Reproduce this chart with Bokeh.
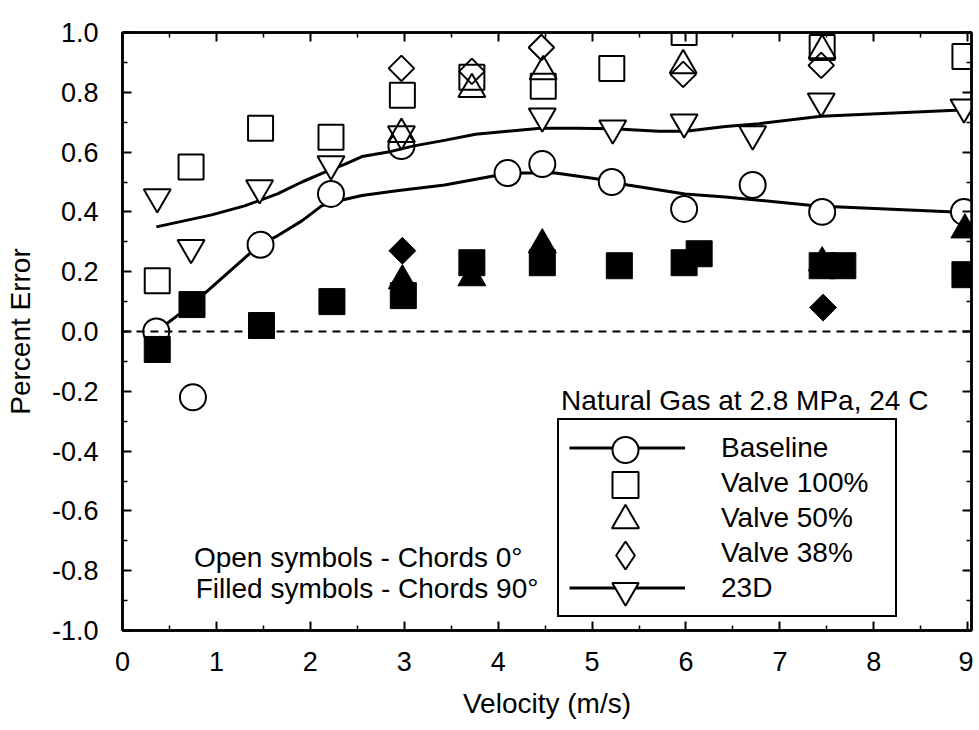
import numpy as np
from bokeh.plotting import figure
from bokeh.models import (Range1d, FixedTicker, PrintfTickFormatter, LinearAxis, Span,
                          Legend, LegendItem, Label, CustomJSTickFormatter)
from bokeh.embed import file_html
from bokeh.resources import INLINE

FONT = "Liberation Sans"

# ---------------- data ----------------
# Open symbols - chords 0 deg
baseline_x = [0.36, 0.75, 1.47, 2.22, 2.97, 4.10, 4.47, 5.21, 5.98, 6.71, 7.45, 8.96]
baseline_y = [0.00, -0.22, 0.29, 0.46, 0.62, 0.53, 0.56, 0.50, 0.41, 0.49, 0.40, 0.40]
baseline_fit_x = [0.36, 0.74, 1.46, 1.65, 1.91, 2.12, 2.34, 2.55, 2.90, 3.43, 3.95, 4.26,
                  4.61, 5.06, 5.38, 5.99, 6.42, 7.40, 8.86, 9.07]
baseline_fit_y = [0.00, 0.09, 0.29, 0.32, 0.37, 0.42, 0.44, 0.455, 0.47, 0.49, 0.52, 0.53,
                  0.53, 0.51, 0.49, 0.46, 0.45, 0.42, 0.40, 0.40]

d23_x = [0.37, 0.73, 1.46, 2.22, 2.97, 4.47, 5.22, 5.98, 6.71, 7.44, 8.96]
d23_y = [0.45, 0.28, 0.48, 0.56, 0.66, 0.72, 0.68, 0.70, 0.66, 0.77, 0.75]
d23_fit_x = [0.36, 0.95, 1.30, 1.65, 1.91, 2.13, 2.37, 2.55, 2.83, 3.09, 3.44, 3.76, 4.45,
             4.83, 5.22, 5.71, 6.00, 6.42, 6.78, 7.44, 8.87, 9.08]
d23_fit_y = [0.35, 0.39, 0.42, 0.46, 0.50, 0.53, 0.56, 0.585, 0.60, 0.62, 0.64, 0.66, 0.68,
             0.68, 0.678, 0.67, 0.67, 0.686, 0.695, 0.72, 0.74, 0.75]

v100_x = [0.37, 0.73, 1.47, 2.22, 2.98, 3.72, 4.48, 5.21, 5.98, 7.45, 8.97]
v100_y = [0.17, 0.55, 0.68, 0.65, 0.79, 0.85, 0.82, 0.88, 1.00, 0.95, 0.92]

v50_x = [2.97, 3.72, 4.48, 5.97, 7.45]
v50_y = [0.66, 0.81, 0.87, 0.89, 0.94]

v38_x = [2.97, 3.72, 4.46, 5.97, 7.44]
v38_y = [0.88, 0.87, 0.95, 0.86, 0.89]

# Filled symbols - chords 90 deg
v100f_x = [0.37, 0.74, 1.48, 2.23, 2.99, 3.72, 4.47, 5.29, 5.98, 6.14, 7.45, 7.67, 8.97]
v100f_y = [-0.06, 0.09, 0.02, 0.10, 0.12, 0.23, 0.23, 0.22, 0.23, 0.26, 0.22, 0.22, 0.19]

v50f_x = [2.98, 3.72, 4.47, 7.45, 8.97]
v50f_y = [0.17, 0.18, 0.29, 0.23, 0.34]

v38f_x = [2.98, 7.46]
v38f_y = [0.27, 0.08]

legend_labels = ["Baseline", "Valve 100%", "Valve 50%", "Valve 38%", "23D"]

x_ticks = [0, 1, 2, 3, 4, 5, 6, 7, 8, 9]
x_minor = [0.5, 1.5, 2.5, 3.5, 4.5, 5.5, 6.5, 7.5, 8.5]
y_ticks = [-1.0, -0.8, -0.6, -0.4, -0.2, 0.0, 0.2, 0.4, 0.6, 0.8, 1.0]
y_minor = [-0.9, -0.7, -0.5, -0.3, -0.1, 0.1, 0.3, 0.5, 0.7, 0.9]

# ---------------- figure ----------------
p = figure(width=973, height=728, output_backend="svg", toolbar_location=None,
           x_range=Range1d(0, 9.04), y_range=Range1d(-1.0, 1.0),
           min_border_left=122, min_border_right=2, min_border_top=32, min_border_bottom=98)
p.xgrid.visible = False
p.ygrid.visible = False
p.outline_line_color = "black"
p.outline_line_width = 2.5
p.background_fill_color = "white"
p.border_fill_color = "white"

xt = FixedTicker(ticks=x_ticks, minor_ticks=x_minor)
yt = FixedTicker(ticks=y_ticks, minor_ticks=y_minor)


def style_axis(ax):
    ax.axis_line_color = "black"
    ax.axis_line_width = 2.5
    ax.major_tick_in = 9
    ax.major_tick_out = 0
    ax.minor_tick_in = 5
    ax.minor_tick_out = 0
    ax.major_tick_line_width = 2
    ax.minor_tick_line_width = 1.5
    ax.major_tick_line_color = "black"
    ax.minor_tick_line_color = "black"
    ax.major_label_text_font = FONT
    ax.major_label_text_font_size = "27px"
    ax.major_label_text_color = "black"
    ax.axis_label_text_font = FONT
    ax.axis_label_text_font_size = "28px"
    ax.axis_label_text_font_style = "normal"
    ax.axis_label_text_color = "black"


p.xaxis.ticker = xt
p.yaxis.ticker = yt
p.yaxis.formatter = PrintfTickFormatter(format="%.1f")
style_axis(p.xaxis[0])
style_axis(p.yaxis[0])
p.xaxis.axis_label = "Velocity (m/s)"
p.yaxis.axis_label = "Percent Error"
p.xaxis.major_label_standoff = 21
p.xaxis.axis_label_standoff = 14
p.yaxis.major_label_standoff = 24
p.yaxis.axis_label_standoff = 13

blank = CustomJSTickFormatter(code="return ''")
ax_r = LinearAxis(ticker=yt, formatter=blank)
style_axis(ax_r)
ax_r.major_label_standoff = 0
p.add_layout(ax_r, "right")
ax_t = LinearAxis(ticker=xt, formatter=blank)
style_axis(ax_t)
ax_t.major_label_standoff = 0
ax_t.major_label_text_font_size = "2px"
p.add_layout(ax_t, "above")

# zero reference line
p.add_layout(Span(location=0, dimension="width", line_color="black",
                  line_width=2, line_dash="8 6"))

# ---------------- glyphs ----------------
r_bl = p.line(baseline_fit_x, baseline_fit_y, line_color="black", line_width=3)
r_bc = p.scatter(baseline_x, baseline_y, marker="circle", size=26, line_color="black",
                 line_width=2, fill_color="white")
r_dl = p.line(d23_fit_x, d23_fit_y, line_color="black", line_width=3)
r_dt = p.scatter(d23_x, d23_y, marker="inverted_triangle", size=27, line_color="black",
                 line_width=2, fill_color="white")
r_sq = p.scatter(v100_x, v100_y, marker="square", size=25, line_color="black",
                 line_width=2, fill_color=None)
r_tr = p.scatter(v50_x, v50_y, marker="triangle", size=27, line_color="black",
                 line_width=2, fill_color=None)
r_di = p.scatter(v38_x, v38_y, marker="square", angle=np.pi / 4, size=18, line_color="black",
                 line_width=2, fill_color=None)

p.scatter(v100f_x, v100f_y, marker="square", size=26, line_color="black",
          line_width=1, fill_color="black")
p.scatter(v50f_x, v50f_y, marker="triangle", size=28, line_color="black",
          line_width=1, fill_color="black")
p.scatter(v38f_x, v38f_y, marker="square", angle=np.pi / 4, size=19, line_color="black",
          line_width=1, fill_color="black")

# legend-only renderers (nothing drawn in the plot area)
r_none = p.scatter(x=[], y=[], marker="square", line_alpha=0, fill_alpha=0)
r_di_leg = p.scatter(x=[float("nan")], y=[float("nan")], marker="diamond",
                     line_color="black", line_width=2, fill_color=None)

# ---------------- legend ----------------
LEG_LEFT, LEG_BOTTOM, LEG_PAD, ROW_H, GLYPH_W = 435, 13, 10, 35, 116

main_legend = Legend(items=[
    LegendItem(label=legend_labels[0], renderers=[r_bl]),
    LegendItem(label=legend_labels[1], renderers=[r_none]),
    LegendItem(label=legend_labels[2], renderers=[r_none]),
    LegendItem(label=legend_labels[3], renderers=[r_none]),
    LegendItem(label=legend_labels[4], renderers=[r_dl]),
], location=(LEG_LEFT, LEG_BOTTOM), orientation="vertical", glyph_width=GLYPH_W,
    glyph_height=ROW_H, spacing=0, padding=LEG_PAD, margin=0, label_standoff=36,
    label_width=164, label_height=ROW_H,
    label_text_font=FONT, label_text_font_size="28px", label_text_color="black",
    border_line_color="black", border_line_width=2.5, border_line_alpha=1.0,
    background_fill_color="white", background_fill_alpha=1.0)
p.add_layout(main_legend)

# one transparent single-entry legend per row, so the key symbols can be drawn larger
marker_rows = [(r_bc, 65), (r_sq, 65), (r_tr, 68), (r_di_leg, 70), (r_dt, 66)]
for i, (rend, gh) in enumerate(marker_rows):
    row_center_from_bottom = LEG_BOTTOM + LEG_PAD + ROW_H / 2 + ROW_H * (4 - i)
    mk = Legend(items=[LegendItem(label=" ", renderers=[rend])],
                location=(LEG_LEFT + LEG_PAD, row_center_from_bottom - gh / 2),
                glyph_width=GLYPH_W, glyph_height=gh, padding=0, margin=0, spacing=0,
                label_standoff=0, label_width=0, label_height=0,
                label_text_font_size="1px",
                border_line_alpha=0, background_fill_alpha=0)
    p.add_layout(mk)

for txt, lx, ly in [("Natural Gas at 2.8 MPa, 24 C", 4.67, -0.23),
                    ("Open symbols - Chords 0\u00b0", 0.76, -0.755),
                    ("Filled symbols - Chords 90\u00b0", 0.78, -0.86)]:
    p.add_layout(Label(x=lx, y=ly, text=txt, text_font=FONT, text_font_size="28px",
                       text_color="black", text_align="left", text_baseline="middle"))

open("out.html", "w").write(file_html(p, INLINE))
